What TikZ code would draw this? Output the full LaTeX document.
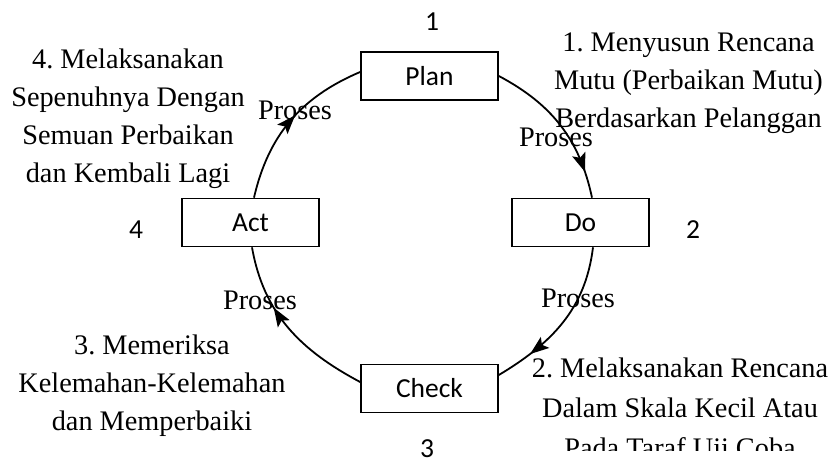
\documentclass[tikz,border=0pt]{standalone}
\usepackage{fontspec}
\setmainfont{Liberation Serif}
\newfontfamily\calib{Carlito}
\usetikzlibrary{arrows.meta,decorations.markings}
\begin{document}
\frenchspacing
\begin{tikzpicture}[x=1pt,y=1pt,
  box/.style={draw,line width=1.7pt,minimum width=137pt,minimum height=48pt,inner sep=0pt,font=\calib\fontsize{27.5}{33}\selectfont},
  num/.style={inner sep=0pt,font=\calib\fontsize{27.5}{33}\selectfont},
  note/.style={align=center,inner sep=0pt,font=\fontsize{28.3}{38}\selectfont},
  lab/.style={inner sep=0pt,font=\fontsize{28.3}{34}\selectfont},
  flow/.style={line width=1.8pt},
  arr/.style={postaction={decorate},decoration={markings,mark=at position #1 with {\fill (2pt,0) -- (-17pt,7pt) -- (-13pt,0) -- (-17pt,-7pt) -- cycle;}}}
]
\clip (0,0) rectangle (833,-462);
\fill[white] (0,0) rectangle (833,-462);

\node[box] (plan) at (429.5,-76) {Plan};
\node[box] (do) at (580.5,-222.5) {Do};
\node[box] (act) at (250.5,-222.5) {Act};
\node[box] (check) at (429.5,-388.5) {Check};

\node[num] (n1) at (432,-22) {1};
\node[num] (n2) at (693,-230) {2};
\node[num] (n3) at (427,-449) {3};
\node[num] (n4) at (136,-230) {4};

\node[note] (t4) at (128,-119) {4. Melaksanakan\\Sepenuhnya Dengan\\Semuan Perbaikan\\dan Kembali Lagi};
\node[note] (t1) at (688.5,-83) {1. Menyusun Rencana\\Mutu (Perbaikan Mutu)\\Berdasarkan Pelanggan};
\node[note] (t3) at (152,-386) {3. Memeriksa\\Kelemahan-Kelemahan\\dan Memperbaiki};
\begin{scope}
\clip (500,-330) rectangle (833,-450);
\node[note,font=\fontsize{28.3}{40}\selectfont] (t2) at (680,-411) {2. Melaksanakan Rencana\\Dalam Skala Kecil Atau\\Pada Taraf Uji Coba};
\end{scope}

\draw[flow,arr=0.82] (plan.east) to[out=-28,in=102] ([xshift=11.5pt]do.north);
\draw[flow,arr=0.76] ([xshift=12.5pt]do.south) to[out=-97,in=31] ([yshift=13.5pt]check.east);
\draw[flow,arr=0.63] ([yshift=6.5pt]check.west) to[out=152,in=-80] ([xshift=1.5pt]act.south);
\draw[flow,arr=0.53] ([xshift=3.5pt]act.north) to[out=77,in=-157] ([yshift=4pt]plan.west);

\node[lab] (p1) at (295,-110) {Proses};
\node[lab] (p2) at (556,-137) {Proses};
\node[lab] (p3) at (578,-298) {Proses};
\node[lab] (p4) at (260,-300) {Proses};
\end{tikzpicture}
\end{document}
